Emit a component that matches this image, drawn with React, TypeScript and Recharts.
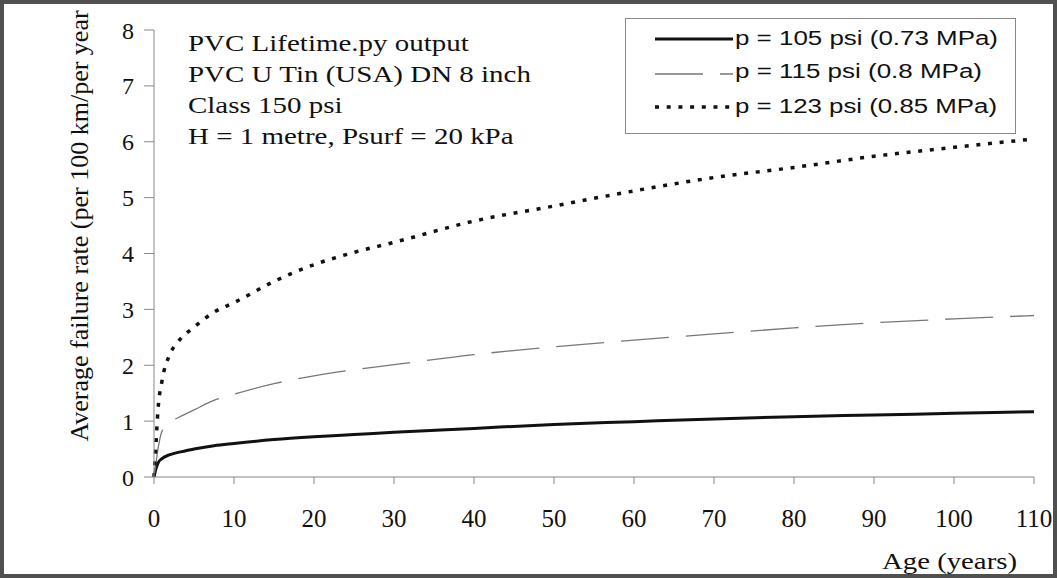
import React from 'react'
import { Customized, Legend, Line, LineChart, XAxis, YAxis } from 'recharts'

// age in years, failure rate per 100 km per year
const ages = [0, 0.25, 0.5, 1, 2, 3, 5, 7.5, 10, 15, 20, 25, 30, 40, 50, 60, 70, 80, 90, 100, 110]
const p105 = [0, 0.15, 0.25, 0.33, 0.4, 0.44, 0.5, 0.56, 0.6, 0.67, 0.72, 0.76, 0.8, 0.87, 0.94, 0.99, 1.04, 1.08, 1.11, 1.14, 1.17]
const p115 = [0, 0.25, 0.5, 0.82, 0.98, 1.06, 1.2, 1.37, 1.48, 1.67, 1.81, 1.92, 2.01, 2.19, 2.33, 2.45, 2.56, 2.67, 2.76, 2.83, 2.89]
const p123 = [0, 0.6, 1.2, 1.72, 2.2, 2.42, 2.68, 2.95, 3.12, 3.5, 3.8, 4.02, 4.2, 4.58, 4.85, 5.12, 5.36, 5.54, 5.74, 5.9, 6.05]

const xTicks = [0, 10, 20, 30, 40, 50, 60, 70, 80, 90, 100, 110]
const yTicks = [0, 1, 2, 3, 4, 5, 6, 7, 8]

const seriesNames = ['p = 105 psi (0.73 MPa)', 'p = 115 psi (0.8 MPa)', 'p = 123 psi (0.85 MPa)']
const noteLines = ['PVC Lifetime.py output', 'PVC U Tin (USA) DN 8 inch', 'Class 150 psi', 'H = 1 metre, Psurf = 20 kPa']

const rows = ages.map((age, i) => ({ age, p105: p105[i], p115: p115[i], p123: p123[i] }))

const serif = '"Liberation Serif", "Times New Roman", serif'
const sans = '"Liberation Sans", Arial, sans-serif'

const series = [
  { key: 'p105', stroke: '#111', width: 3, dash: undefined as string | undefined },
  { key: 'p115', stroke: '#777', width: 1.3, dash: '48 17' },
  { key: 'p123', stroke: '#111', width: 3.5, dash: '4 7.7' }
]

const legendWidths = [263, 247, 262]

// the scanned figure is stretched sideways, so text is widened a bit
const stretch = (x: number, k: number) => `translate(${x} 0) scale(${k} 1) translate(${-x} 0)`

function Notes() {
  return (
    <g fontFamily={serif} fill="#111">
      {noteLines.map((t, i) => (
        <text key={t} x={188} y={51 + i * 31} fontSize={23} transform={stretch(188, 1.26)}>
          {t}
        </text>
      ))}
      <text x={882} y={569} fontSize={24} textLength={135} lengthAdjust="spacingAndGlyphs">
        Age (years)
      </text>
      <text x={88} y={226} fontSize={26} textAnchor="middle" transform="rotate(-90 88 226)">
        Average failure rate (per 100 km/per year
      </text>
    </g>
  )
}

function LegendBox() {
  return (
    <svg width={392} height={117} style={{ display: 'block' }}>
      <rect x={0.5} y={0.5} width={390} height={115} fill="#fff" stroke="#888" strokeWidth={1} />
      {series.map((s, i) => {
        const y = [21, 56, 89][i]
        return (
          <g key={s.key}>
            <line x1={30} x2={108} y1={y} y2={y} stroke={s.stroke} strokeWidth={s.width} strokeDasharray={s.dash} />
            <text x={110} y={[27, 60, 95][i]} fontFamily={sans} fontSize={20} fill="#111" textLength={legendWidths[i]} lengthAdjust="spacingAndGlyphs">
              {seriesNames[i]}
            </text>
          </g>
        )
      })}
    </svg>
  )
}

export default function App() {
  return (
    <div style={{ position: 'absolute', left: 0, top: 0, width: 1057, height: 578, background: '#fff' }}>
      <LineChart width={1057} height={578} data={rows} margin={{ top: 30, right: 23, left: 0, bottom: 0 }}>
        <XAxis
          dataKey="age"
          type="number"
          domain={[0, 110]}
          ticks={xTicks}
          height={101}
          stroke="#888"
          tickSize={7}
          tickMargin={25}
          tick={{ fill: '#111', fontSize: 25, fontFamily: serif }}
        />
        <YAxis
          type="number"
          domain={[0, 8]}
          ticks={yTicks}
          width={154}
          stroke="#888"
          tickSize={10}
          tickMargin={10}
          tick={{ fill: '#111', fontSize: 24, fontFamily: serif }}
        />
        <Legend
          layout="vertical"
          align="center"
          verticalAlign="middle"
          content={() => <LegendBox />}
          wrapperStyle={{ position: 'absolute', left: 625, top: 18, width: 392, height: 117 }}
        />
        {series.map((s, i) => (
          <Line
            key={s.key}
            dataKey={s.key}
            name={seriesNames[i]}
            type="monotone"
            stroke={s.stroke}
            strokeWidth={s.width}
            strokeDasharray={s.dash}
            dot={false}
            activeDot={false}
            isAnimationActive={false}
          />
        ))}
        <Customized component={<Notes />} />
      </LineChart>
      <div
        style={{
          position: 'absolute',
          inset: 0,
          border: '4px solid #505050',
          pointerEvents: 'none'
        }}
      />
    </div>
  )
}
